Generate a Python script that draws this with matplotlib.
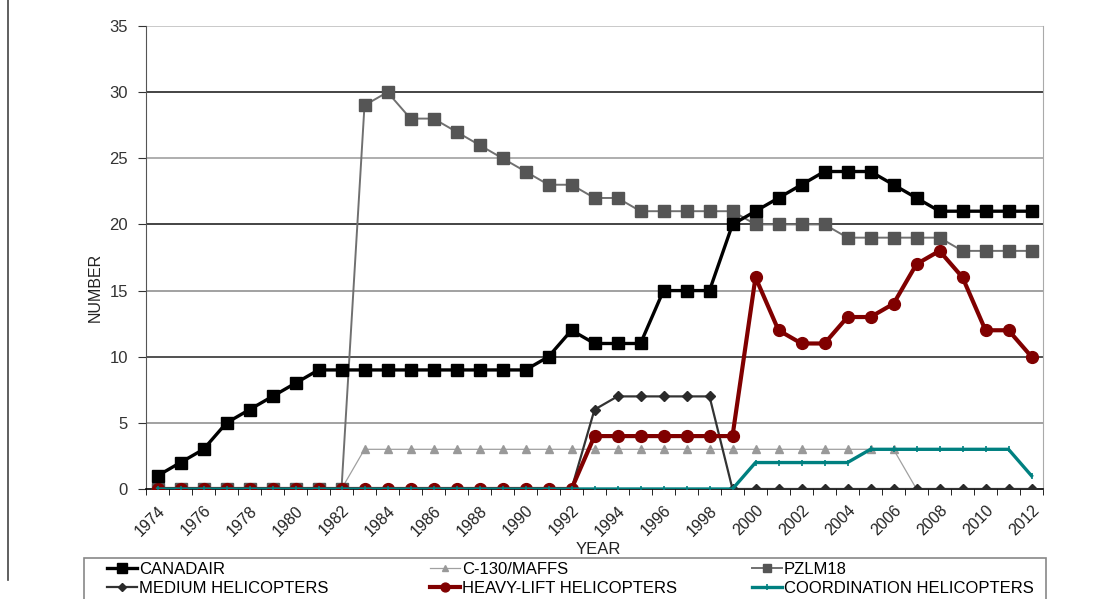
import matplotlib.pyplot as plt
from matplotlib.lines import Line2D
from matplotlib.patches import Rectangle

plt.rcParams['font.family'] = ['Liberation Sans', 'DejaVu Sans']

years = list(range(1974, 2013))

canadair = [1, 2, 3, 5, 6, 7, 8, 9, 9, 9, 9, 9, 9, 9, 9, 9, 9, 10, 12, 11,
            11, 11, 15, 15, 15, 20, 21, 22, 23, 24, 24, 24, 23, 22, 21, 21,
            21, 21, 21]
c130_maffs = [0, 0, 0, 0, 0, 0, 0, 0, 0, 3, 3, 3, 3, 3, 3, 3, 3, 3, 3, 3,
              3, 3, 3, 3, 3, 3, 3, 3, 3, 3, 3, 3, 3, 0, 0, 0, 0, 0, 0]
pzl_m18 = [0, 0, 0, 0, 0, 0, 0, 0, 0, 29, 30, 28, 28, 27, 26, 25, 24, 23,
           23, 22, 22, 21, 21, 21, 21, 21, 20, 20, 20, 20, 19, 19, 19, 19,
           19, 18, 18, 18, 18]
medium_heli = [0, 0, 0, 0, 0, 0, 0, 0, 0, 0, 0, 0, 0, 0, 0, 0, 0, 0, 0, 6,
               7, 7, 7, 7, 7, 0, 0, 0, 0, 0, 0, 0, 0, 0, 0, 0, 0, 0, 0]
heavy_heli = [0, 0, 0, 0, 0, 0, 0, 0, 0, 0, 0, 0, 0, 0, 0, 0, 0, 0, 0, 4,
              4, 4, 4, 4, 4, 4, 16, 12, 11, 11, 13, 13, 14, 17, 18, 16, 12,
              12, 10]
coord_heli = [0, 0, 0, 0, 0, 0, 0, 0, 0, 0, 0, 0, 0, 0, 0, 0, 0, 0, 0, 0,
              0, 0, 0, 0, 0, 0, 2, 2, 2, 2, 2, 3, 3, 3, 3, 3, 3, 3, 1]

W, H = 1096, 599
fig = plt.figure(figsize=(W / 100, H / 100), dpi=100)
ax = fig.add_axes([146 / W, 1 - 489 / H, 897 / W, 463 / H])

# horizontal gridlines, alternating dark / light
grid_cols = {5: '#888888', 10: '#222222', 15: '#888888', 20: '#111111',
             25: '#999999', 30: '#111111', 35: '#bbbbbb'}
for yv, c in grid_cols.items():
    ax.axhline(yv, color=c, lw=1.1, zorder=0)

ax.plot(years, c130_maffs, '-^', color='#a0a0a0', mfc='#999999', mec='#999999',
        lw=0.9, ms=6, label='C-130/MAFFS', zorder=2)
ax.plot(years, pzl_m18, '-s', color='#707070', mfc='#555555', mec='#555555',
        lw=1.4, ms=8, label='PZLM18', zorder=3)
ax.plot(years, medium_heli, '-D', color='#333333', mfc='#2a2a2a', mec='#2a2a2a',
        lw=1.6, ms=5, label='MEDIUM HELICOPTERS', zorder=3)
ax.plot(years, heavy_heli, '-o', color='#800000', mfc='#800000', mec='#800000',
        lw=3.0, ms=8.5, label='HEAVY-LIFT HELICOPTERS', zorder=4)
ax.plot(years, coord_heli, '-|', color='#008080', mec='#008080',
        lw=2.4, ms=5, mew=1.2, label='COORDINATION HELICOPTERS', zorder=5)
ax.plot(years, canadair, '-s', color='black', lw=2.4, ms=9,
        label='CANADAIR', zorder=6)

ax.set_xlim(1973.5, 2012.5)
ax.set_ylim(0, 35)
ax.set_yticks(range(0, 36, 5))
ax.tick_params(axis='y', labelsize=12, length=6, pad=7, direction='out',
               color='#333333', labelcolor='#333333')
ax.set_xticks(years[::2])
ax.set_xticklabels([str(y) for y in years[::2]], rotation=45, ha='right',
                   rotation_mode='anchor', fontsize=11.5, color='#222222')
ax.set_xticks([y - 0.5 for y in years] + [2012.5], minor=True)
ax.tick_params(axis='x', which='major', length=0, pad=10)
ax.tick_params(axis='x', which='minor', length=4, direction='out',
               color='black')

ax.spines['top'].set_visible(False)
ax.spines['left'].set_color('#555555')
ax.spines['right'].set_color('#aaaaaa')
ax.spines['bottom'].set_color('black')
ax.spines['bottom'].set_linewidth(1.2)

ax.set_ylabel('NUMBER', fontsize=11.5, color='#222222')
ax.yaxis.set_label_coords(-0.048, 0.436)
ax.set_xlabel('YEAR', fontsize=12, color='#222222')
ax.xaxis.set_label_coords(0.504, -0.114)

# legend: three columns of two rows inside one gray box
h = {l.get_label(): l for l in ax.get_lines()}
columns = [(['CANADAIR', 'MEDIUM HELICOPTERS'], 107),
           (['C-130/MAFFS', 'HEAVY-LIFT HELICOPTERS'], 430),
           (['PZLM18', 'COORDINATION HELICOPTERS'], 752)]
for labels, x0 in columns:
    fig.legend([h[k] for k in labels], labels, loc='upper left',
               bbox_to_anchor=(x0 / W, 1 - 562 / H), frameon=False,
               fontsize=12, handlelength=1.8, handletextpad=0.12,
               borderpad=0, borderaxespad=0, labelspacing=0.25,
               markerscale=0.75)
fig.add_artist(Rectangle((84 / W, -0.01), (1046 - 84) / W, (599 - 558) / H + 0.01,
                         transform=fig.transFigure, fill=False,
                         edgecolor='#888888', lw=1.2))

# page border on the left
fig.add_artist(Line2D([8 / W, 8 / W], [1, 1 - 580 / H],
                      color='#444444', lw=1.2))

fig.savefig('out.png', dpi=100)
